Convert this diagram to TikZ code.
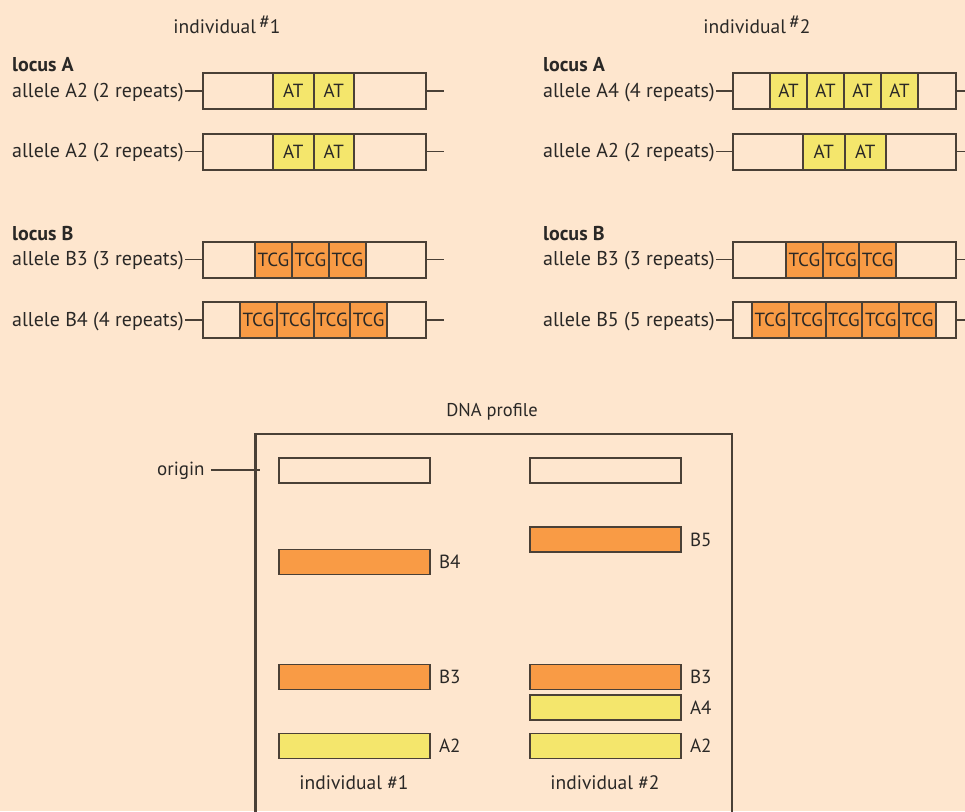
\documentclass[tikz,border=0pt]{standalone}
\usepackage{fontspec}
\setmainfont{PT Sans}
\definecolor{bg}{HTML}{FEE6CE}
\definecolor{ln}{HTML}{4A4036}
\definecolor{tx}{HTML}{2A2826}
\definecolor{yel}{HTML}{F4E66C}
\definecolor{org}{HTML}{F99B45}
\tikzset{
  lbl/.style={anchor=west, inner sep=0pt, text=tx, font=\fontsize{20}{22}\selectfont},
  loc/.style={anchor=west, inner sep=0pt, text=tx, font=\fontsize{20}{22}\selectfont\bfseries},
  allelebox/.style={draw=ln, line width=2pt, fill=bg, minimum width=223pt, minimum height=36pt, inner sep=0pt},
  cell/.style={draw=ln, line width=2pt, minimum height=36pt, inner sep=0pt, text=tx, font=\fontsize{19}{20}\selectfont},
  cellAT/.style={cell, fill=yel},
  cellTCG/.style={cell, fill=org},
  conn/.style={draw=ln, line width=1.8pt},
  bar/.style={draw=ln, line width=1.8pt, minimum width=151pt, minimum height=25pt, inner sep=0pt},
  barlbl/.style={anchor=west, inner sep=0pt, text=tx, font=\fontsize{19}{20}\selectfont},
  ttl/.style={text=tx, font=\fontsize{19.5}{21}\selectfont, inner sep=0pt},
}
\newcommand{\allelerow}[9]{%
  % #1 name, #2 label, #3 text x, #4 box left x, #5 y, #6 cell start, #7 cell width, #8 count, #9 repeat text
  \node[lbl] (#1t) at (#3,#5+1.5) {#2};
  \node[allelebox, anchor=west] (#1b) at (#4,#5) {};
  \coordinate (#1e) at ([xshift=17pt]#1b.east);
  \draw[conn] ([xshift=1.5pt]#1t.east |- #1b.west) -- (#1b.west);
  \draw[conn] (#1b.east) -- (#1e);
  \foreach \i in {1,...,#8}{
    \node[cell#9, minimum width=#7 pt] (#1c\i) at ({#6+(\i-0.5)*#7},#5) {#9};
  }
}
\begin{document}
\begin{tikzpicture}[x=1pt,y=-1pt]
\useasboundingbox[fill=bg] (0,0) rectangle (965,811);

% titles
\node[ttl] (t1) at (227,25) {individual\,\raisebox{5.5pt}{\#}1};
\node[ttl] (t2) at (757,25) {individual\,\raisebox{5.5pt}{\#}2};

% individual 1
\node[loc] (la1) at (12,65) {locus A};
\allelerow{p}{allele A2 (2 repeats)}{12}{202}{91}{273}{40.5}{2}{AT}
\allelerow{q}{allele A2 (2 repeats)}{12}{202}{151.5}{273}{40.5}{2}{AT}
\node[loc] (lb1) at (12,234) {locus B};
\allelerow{r}{allele B3 (3 repeats)}{12}{202}{259.5}{255}{37}{3}{TCG}
\allelerow{s}{allele B4 (4 repeats)}{12}{202}{320}{240}{36.75}{4}{TCG}

% individual 2
\node[loc] (la2) at (543,65) {locus A};
\allelerow{u}{allele A4 (4 repeats)}{543}{732}{91}{770}{37}{4}{AT}
\allelerow{v}{allele A2 (2 repeats)}{543}{732}{151.5}{803}{41.5}{2}{AT}
\node[loc] (lb2) at (543,234) {locus B};
\allelerow{w}{allele B3 (3 repeats)}{543}{732}{259.5}{786}{36.7}{3}{TCG}
\allelerow{z}{allele B5 (5 repeats)}{543}{732}{320}{752}{36.8}{5}{TCG}

% DNA profile
\node[text=tx, font=\fontsize{18.5}{20}\selectfont, inner sep=0pt] (dp) at (492,412) {DNA profile};
\node[draw=ln, line width=2.5pt, minimum width=476.7pt, minimum height=420pt, anchor=north west, inner sep=0pt] (frame) at (254,432.7) {};
\node[lbl, font=\fontsize{19}{20}\selectfont] (orig) at (157,471) {origin};
\draw[draw=ln, line width=1.5pt] ([xshift=6pt]orig.east |- 0,470) -- ([xshift=6pt]orig.east |- 0,470 -| frame.west);

\node[bar, fill=bg] (o1) at (354.5,470.5) {};
\node[bar, fill=bg] (o2) at (605.5,470.5) {};
\node[bar, fill=org] (b4) at (354.5,562) {};
\node[barlbl] at ([xshift=8pt]b4.east) (b4l) {B4};
\node[bar, fill=org] (b5) at (605.5,539.5) {};
\node[barlbl] at ([xshift=8pt]b5.east) (b5l) {B5};
\node[bar, fill=org] (b3a) at (354.5,677) {};
\node[barlbl] at ([xshift=8pt]b3a.east) (b3al) {B3};
\node[bar, fill=org] (b3b) at (605.5,677) {};
\node[barlbl] at ([xshift=8pt]b3b.east) (b3bl) {B3};
\node[bar, fill=yel] (a4) at (605.5,707.5) {};
\node[barlbl] at ([xshift=8pt]a4.east) (a4l) {A4};
\node[bar, fill=yel] (a2a) at (354.5,746) {};
\node[barlbl] at ([xshift=8pt]a2a.east) (a2al) {A2};
\node[bar, fill=yel] (a2b) at (605.5,746) {};
\node[barlbl] at ([xshift=8pt]a2b.east) (a2bl) {A2};
\node[ttl] (i1) at (354,783) {individual \#1};
\node[ttl] (i2) at (605,783) {individual \#2};
\end{tikzpicture}
\end{document}
